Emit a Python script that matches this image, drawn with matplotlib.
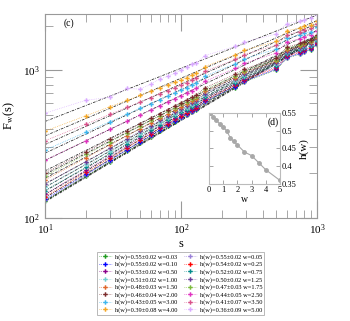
# coding:utf-8

import numpy as np
import matplotlib
matplotlib.use('Agg')
import matplotlib.pyplot as plt
from matplotlib.ticker import FuncFormatter, NullFormatter, MultipleLocator

# window sizes s
s = [10, 20, 30, 40, 50, 60, 70, 80, 90, 100, 110, 120, 130, 150,
     250, 290, 500, 600, 750, 800, 900, 1000]

# F_w(s) for each w
F_003 = [130, 192, 240, 282, 320, 354, 387, 417, 445, 474, 497, 518, 540, 607, 763, 831, 1003, 1205, 1285, 1327, 1375, 1484]
F_005 = [132, 195, 244, 287, 325, 360, 393, 423, 451, 478, 501, 523, 545, 613, 770, 838, 1012, 1214, 1294, 1336, 1384, 1494]
F_010 = [134, 197, 246, 289, 327, 362, 395, 425, 454, 481, 504, 526, 548, 616, 774, 842, 1017, 1220, 1300, 1342, 1390, 1499]
F_025 = [139, 204, 254, 298, 337, 372, 405, 435, 464, 492, 515, 538, 559, 628, 789, 858, 1033, 1239, 1320, 1362, 1411, 1520]
F_050 = [145, 211, 263, 307, 346, 382, 415, 446, 475, 503, 527, 550, 572, 642, 804, 874, 1051, 1259, 1341, 1383, 1431, 1542]
F_075 = [153, 221, 274, 319, 359, 395, 429, 460, 490, 518, 542, 565, 588, 659, 824, 895, 1074, 1285, 1367, 1411, 1458, 1570]
F_100 = [162, 232, 286, 332, 373, 410, 444, 476, 506, 534, 559, 583, 606, 679, 847, 919, 1100, 1315, 1397, 1440, 1489, 1602]
F_125 = [170, 241, 297, 344, 385, 422, 457, 489, 519, 548, 573, 597, 620, 695, 865, 938, 1120, 1338, 1421, 1465, 1513, 1628]
F_150 = [181, 255, 312, 360, 402, 440, 475, 507, 538, 567, 592, 617, 641, 718, 891, 965, 1149, 1373, 1454, 1498, 1547, 1664]
F_175 = [192, 269, 327, 376, 419, 458, 493, 526, 557, 586, 613, 638, 662, 741, 917, 993, 1178, 1406, 1488, 1534, 1582, 1700]
F_200 = [202, 281, 341, 390, 434, 473, 509, 542, 573, 603, 630, 655, 680, 760, 939, 1016, 1203, 1433, 1517, 1562, 1611, 1730]
F_250 = [246, 333, 398, 451, 497, 537, 575, 609, 641, 671, 700, 727, 754, 841, 1029, 1111, 1304, 1549, 1633, 1680, 1729, 1853]
F_300 = [288, 381, 449, 504, 552, 594, 633, 668, 700, 731, 761, 790, 818, 910, 1107, 1192, 1389, 1646, 1730, 1778, 1827, 1956]
F_350 = [333, 432, 503, 560, 609, 653, 692, 727, 760, 791, 823, 853, 882, 980, 1184, 1274, 1474, 1743, 1826, 1876, 1925, 2058]
F_400 = [387, 492, 566, 625, 675, 719, 759, 794, 827, 858, 891, 924, 954, 1058, 1270, 1363, 1566, 1848, 1931, 1982, 2030, 2168]
F_500 = [512, 626, 655, 752, 745, 804, 873, 911, 955, 1000, 1052, 1098, 1120, 1257, 1447, 1548, 1756, 2062, 2144, 2196, 2244, 2390]

# w, fitted exponent h(w) and its error
w = [0.03, 0.05, 0.10, 0.25, 0.50, 0.75, 1.00, 1.25, 1.50, 1.75, 2.00, 2.50, 3.00, 3.50, 4.00, 5.00]
h = [0.55, 0.55, 0.55, 0.54, 0.53, 0.52, 0.51, 0.50, 0.48, 0.47, 0.46, 0.44, 0.43, 0.41, 0.39, 0.36]
h_err = [0.02, 0.02, 0.02, 0.02, 0.02, 0.02, 0.02, 0.02, 0.03, 0.03, 0.04, 0.05, 0.05, 0.07, 0.08, 0.09]

colors = ['#1f9a1f', '#9a80d8', '#0000ff', '#ff0000', '#8b008b', '#008b8b',
          '#6fcfd0', '#6a3d9a', '#e0662a', '#7cbb3c', '#7b2b2b', '#e030c0',
          '#3db6ee', '#d9508a', '#f5a623', '#d9aaff']

series = [F_003, F_005, F_010, F_025, F_050, F_075, F_100, F_125,
          F_150, F_175, F_200, F_250, F_300, F_350, F_400, F_500]

plt.rcParams['font.family'] = ['Liberation Serif', 'DejaVu Serif']
plt.rcParams['mathtext.fontset'] = 'stix'

fig = plt.figure(figsize=(3.5, 3.21), dpi=100)
ax = fig.add_axes([0.1286, 0.3209, 0.7771, 0.6355])

grey = '#999999'
log_s = np.log10(s)
ends = np.array([10, 1000])

# fit lines with slope h(w)
for F, hh in zip(series, h):
    c0 = np.mean(np.log10(F) - hh * log_s)
    ax.plot(ends, 10 ** (c0 + hh * np.log10(ends)), color='#222222', lw=0.55,
            ls=(0, (3.5, 1.5, 1, 1.5)), zorder=1)

# data points
for F, c, ww, hh, ee in zip(series, colors, w, h, h_err):
    ax.plot(s, F, ls=':', lw=0.5, color=c, marker='P', ms=3.2, mec='none',
            zorder=2, label='h(w)=%.2f\u00b1%.2f w=%.2f' % (hh, ee, ww))

ax.set_xscale('log')
ax.set_yscale('log')
ax.set_xlim(10, 1000)
ax.set_ylim(100, 2400)
ax.xaxis.set_minor_formatter(NullFormatter())
ax.yaxis.set_minor_formatter(NullFormatter())
ax.tick_params(which='both', direction='in', top=True, right=True, color=grey, labelsize=8)
ax.tick_params(which='major', length=12, width=0.8)
ax.tick_params(axis='x', which='major', pad=3)
ax.tick_params(axis='y', which='major', pad=4)
ax.tick_params(which='minor', length=6, width=0.6)
for sp in ax.spines.values():
    sp.set_color(grey)
    sp.set_linewidth(0.8)
ax.set_xlabel('s', fontsize=9, labelpad=1)
ax.set_ylabel(r'F$_\mathrm{w}$(s)', fontsize=9, labelpad=4)
ax.text(0.07, 0.956, '(c)', transform=ax.transAxes, fontsize=7, va='center')

# inset (d)
axin = fig.add_axes([0.597, 0.4268, 0.203, 0.2212])
axin.plot(w, h, color='#a8a8a8', marker='o', ms=2.5, lw=0.8)
axin.set_xlim(0, 5)
axin.set_ylim(0.35, 0.55)
axin.xaxis.set_major_locator(MultipleLocator(1))
axin.yaxis.set_major_locator(MultipleLocator(0.05))
axin.yaxis.set_major_formatter(FuncFormatter(lambda v, p: '%g' % round(v, 2)))
axin.tick_params(direction='in', length=3, width=0.6, color=grey, labelsize=6,
                 left=True, right=True, top=True, bottom=True,
                 labelleft=False, labelright=True, pad=1.5)
axin.yaxis.set_label_position('right')
axin.set_xlabel('w', fontsize=7, labelpad=1)
axin.set_ylabel('h(w)', fontsize=8, labelpad=2)
for sp in axin.spines.values():
    sp.set_color('#bbbbbb')
    sp.set_linewidth(0.8)
axin.text(0.82, 0.87, '(d)', transform=axin.transAxes, fontsize=7, va='center')

# legend, two columns
handles, labels = ax.get_legend_handles_labels()
order = list(range(0, 16, 2)) + list(range(1, 16, 2))
leg = fig.legend([handles[i] for i in order], [labels[i] for i in order],
                 loc='center', bbox_to_anchor=(0.516, 0.117), ncol=2, fontsize=4.6,
                 fancybox=False, edgecolor=grey, labelspacing=0.28, handlelength=2.0,
                 columnspacing=1.0, handletextpad=0.5, borderpad=0.35)
leg.get_frame().set_linewidth(0.6)

fig.savefig('out.png', dpi=100)
